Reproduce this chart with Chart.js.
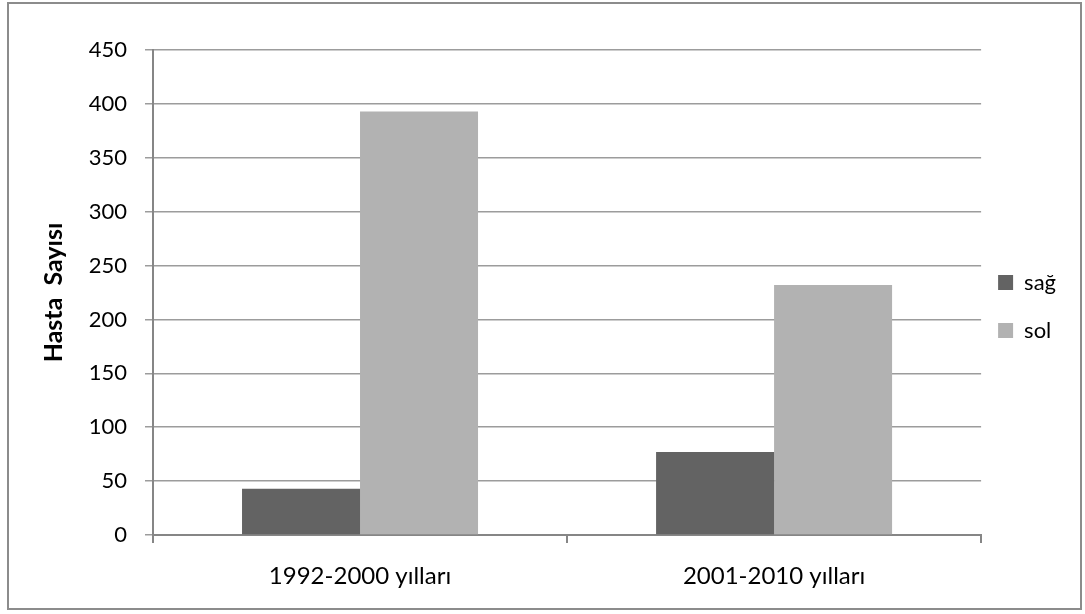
<!DOCTYPE html>
<html>
<head>
<meta charset="utf-8">
<script src="https://cdn.jsdelivr.net/npm/chart.js@4/dist/chart.umd.min.js"></script>
<style>
  html, body { margin: 0; padding: 0; background: #ffffff; }
  canvas { display: block; }
</style>
</head>
<body>
<canvas id="chart" width="1085" height="614"></canvas>
<script>
// Hasta sayısı, dönemlere göre sağ / sol
const categories = ['1992-2000 yılları', '2001-2010 yılları'];
const sagValues = [43, 77];
const solValues = [393, 232];
const seriesNames = ['sağ', 'sol'];
const yTitle = 'Hasta  Sayısı';

const FONT = 'Lato, "Open Sans", "DejaVu Sans", sans-serif';
const AXIS_GRAY = '#868686';
const GRID_GRAY = '#9c9c9c';

// outer frame around the whole chart
const framePlugin = {
  id: 'frame',
  beforeDraw(chart) {
    const ctx = chart.ctx;
    ctx.save();
    ctx.fillStyle = '#ffffff';
    ctx.fillRect(0, 0, chart.width, chart.height);
    ctx.restore();
  },
  afterDraw(chart) {
    const ctx = chart.ctx;
    ctx.save();
    ctx.strokeStyle = '#8c8c8c';
    ctx.lineWidth = 2;
    ctx.strokeRect(8, 3, 1073, 606);
    ctx.restore();
  }
};

// nudge the legend block closer to the plot and down a little
const legendNudge = {
  id: 'legendNudge',
  afterLayout(chart) {
    const lg = chart.legend;
    if (!lg) return;
    const dx = -9, dy = 14;
    lg.left += dx; lg.right += dx;
    lg.top += dy; lg.bottom += dy;
  }
};

new Chart(document.getElementById('chart'), {
  type: 'bar',
  data: {
    labels: categories,
    datasets: [
      { label: seriesNames[0], data: sagValues, backgroundColor: '#636363' },
      { label: seriesNames[1], data: solValues, backgroundColor: '#b2b2b2' }
    ]
  },
  options: {
    responsive: false,
    devicePixelRatio: 1,
    animation: false,
    layout: { padding: { left: 30, top: 50, right: 10, bottom: 0 } },
    datasets: {
      bar: { categoryPercentage: 0.57, barPercentage: 1.0 }
    },
    plugins: {
      tooltip: { enabled: false },
      legend: {
        position: 'right',
        fullSize: false,
        labels: {
          boxWidth: 15,
          boxHeight: 15,
          padding: 26,
          color: '#000000',
          font: { family: FONT, size: 22 }
        }
      }
    },
    scales: {
      x: {
        offset: true,
        grid: {
          display: true,
          offset: true,
          drawOnChartArea: false,
          drawTicks: true,
          tickLength: 8,
          color: AXIS_GRAY,
          lineWidth: 2
        },
        border: { display: true, color: AXIS_GRAY, width: 2 },
        ticks: {
          color: '#000000',
          padding: 19,
          font: { family: FONT, size: 24 }
        },
        afterFit(scale) { scale.height = 79; }
      },
      y: {
        min: 0,
        max: 450,
        ticks: {
          stepSize: 50,
          color: '#000000',
          padding: 18,
          font: { family: FONT, size: 22 }
        },
        grid: {
          color: GRID_GRAY,
          lineWidth: 1.5,
          drawTicks: true,
          tickLength: 8
        },
        border: { display: true, color: AXIS_GRAY, width: 2 },
        title: {
          display: true,
          text: yTitle,
          color: '#000000',
          font: { family: FONT, size: 25, weight: 'bold' },
          padding: { top: 9, bottom: 0 }
        },
        afterFit(scale) { scale.width = 123; }
      }
    }
  },
  plugins: [framePlugin, legendNudge]
});
</script>
</body>
</html>
